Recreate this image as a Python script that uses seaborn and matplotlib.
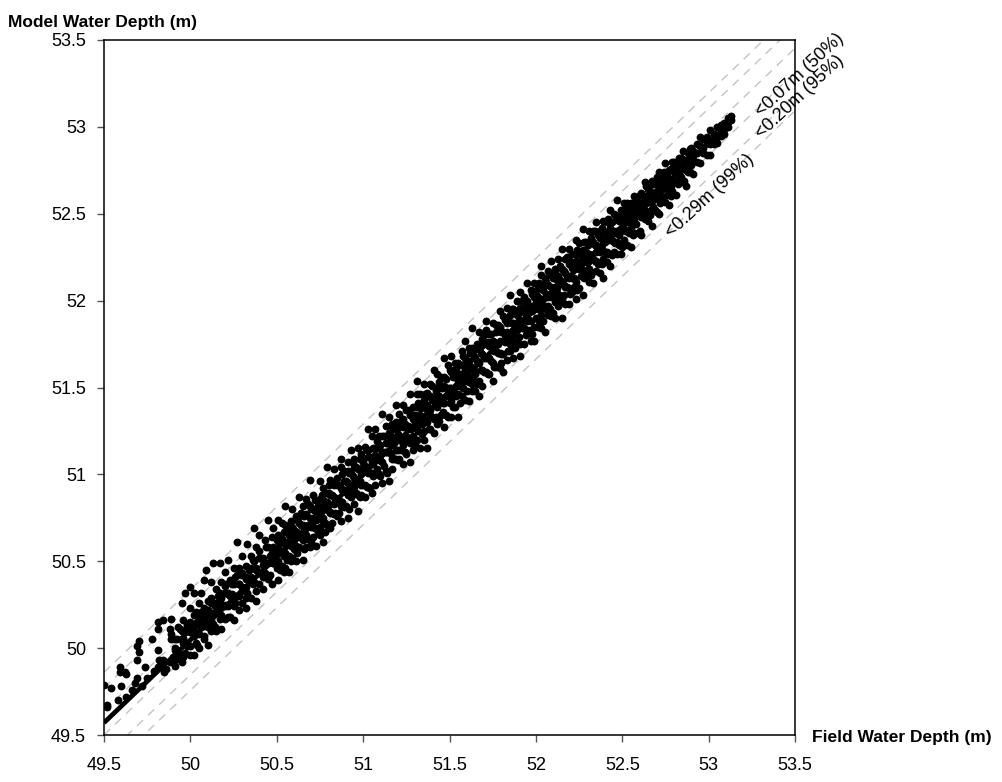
import numpy as np
import pandas as pd
import matplotlib
matplotlib.use('Agg')
import matplotlib.pyplot as plt
from matplotlib.ticker import FormatStrFormatter
import seaborn as sns

# Field vs model water depth (m), grouped along the band
low_end = [
    (49.50, 49.79), (49.52, 49.66), (49.52, 49.67), (49.54, 49.77), (49.58, 49.70),
    (49.60, 49.78), (49.59, 49.89), (49.59, 49.86), (49.62, 49.86), (49.63, 49.85),
    (49.63, 49.72), (49.66, 49.76), (49.68, 49.80), (49.69, 49.93), (49.70, 49.98),
    (49.70, 50.04), (49.69, 50.01), (49.69, 49.83), (49.72, 49.78), (49.75, 49.83),
    (49.74, 49.89), (49.78, 50.05), (49.79, 49.87), (49.81, 49.99), (49.81, 50.15),
    (49.81, 50.11), (49.84, 50.16), (49.83, 49.90), (49.84, 49.93), (49.85, 49.86),
    (49.88, 50.11), (49.89, 50.17), (49.89, 50.08), (49.89, 50.05), (49.90, 49.95),
    (49.91, 50.00), (49.90, 49.92), (49.88, 49.92), (49.81, 49.89), (49.82, 49.93),
    (49.86, 49.88),
]

lower_band = [
    (49.91, 49.90), (49.91, 49.99), (49.91, 50.05), (49.93, 49.98), (49.93, 50.12),
    (49.93, 49.94), (49.95, 50.26), (49.95, 50.05), (49.95, 49.92), (49.95, 50.10),
    (49.96, 50.16), (49.96, 50.03), (49.97, 50.32), (49.97, 49.97), (49.97, 50.09),
    (49.98, 50.14), (49.98, 50.01), (50.00, 50.35), (50.00, 50.23), (50.00, 50.09),
    (50.00, 49.96), (50.00, 50.15), (50.02, 50.32), (50.02, 50.07), (50.02, 49.96),
    (50.02, 50.13), (50.03, 50.21), (50.03, 50.03), (50.05, 50.18), (50.05, 50.08),
    (50.05, 50.26), (50.05, 50.00), (50.06, 50.32), (50.06, 50.14), (50.08, 50.23),
    (50.08, 50.05), (50.08, 50.13), (50.08, 50.39), (50.09, 50.45), (50.09, 50.19),
    (50.10, 50.02), (50.10, 50.27), (50.10, 50.14), (50.12, 50.38), (50.12, 50.20),
    (50.12, 50.10), (50.12, 50.26), (50.13, 50.49), (50.13, 50.14), (50.15, 50.34),
    (50.15, 50.26), (50.15, 50.10), (50.15, 50.21), (50.17, 50.49), (50.17, 50.32),
    (50.17, 50.17), (50.17, 50.26), (50.18, 50.11), (50.18, 50.38), (50.20, 50.24),
    (50.20, 50.32), (50.20, 50.17), (50.20, 50.44), (50.20, 50.37), (50.22, 50.24),
    (50.22, 50.32), (50.22, 50.51), (50.23, 50.39), (50.23, 50.18), (50.23, 50.30),
    (50.25, 50.46), (50.25, 50.24), (50.25, 50.37), (50.25, 50.16), (50.25, 50.29),
    (50.27, 50.42), (50.27, 50.30), (50.27, 50.61), (50.28, 50.37), (50.28, 50.22),
    (50.28, 50.46), (50.30, 50.35), (50.30, 50.53), (50.30, 50.26), (50.30, 50.42),
    (50.32, 50.23), (50.32, 50.47), (50.32, 50.35), (50.32, 50.41), (50.33, 50.60),
    (50.33, 50.32), (50.35, 50.53), (50.35, 50.41), (50.35, 50.29), (50.35, 50.46),
    (50.37, 50.38), (50.37, 50.50), (50.37, 50.69), (50.38, 50.27), (50.38, 50.46),
    (50.38, 50.58), (50.40, 50.44), (50.40, 50.37), (50.40, 50.56), (50.40, 50.65),
    (50.42, 50.52), (50.42, 50.34), (50.42, 50.48), (50.43, 50.62), (50.43, 50.43),
    (50.45, 50.58), (50.45, 50.40), (50.45, 50.49), (50.45, 50.74), (50.47, 50.37),
    (50.47, 50.55), (50.47, 50.64), (50.48, 50.69), (50.48, 50.49), (50.48, 50.58),
]

# field depth -> model depths seen at that field depth
lower_core = {
    49.92: [49.99, 50.05], 49.94: [49.96, 50.11], 49.96: [50.06, 49.95],
    49.98: [50.13, 50.03], 50.00: [50.01, 50.12], 50.02: [50.10, 50.19],
    50.04: [50.02, 50.15], 50.06: [50.12, 50.21], 50.08: [50.07, 50.16],
    50.10: [50.22, 50.12], 50.12: [50.16, 50.29], 50.14: [50.12, 50.24],
    50.16: [50.23, 50.30], 50.18: [50.19, 50.29], 50.20: [50.25, 50.36],
    50.22: [50.18, 50.31], 50.24: [50.31, 50.37], 50.26: [50.26, 50.41],
    50.28: [50.37, 50.30], 50.30: [50.33, 50.43], 50.32: [50.29, 50.40],
    50.34: [50.45, 50.39], 50.36: [50.37, 50.51], 50.38: [50.45, 50.33],
    50.40: [50.52, 50.43], 50.42: [50.41, 50.51], 50.44: [50.49, 50.58],
    50.46: [50.42, 50.53], 50.48: [50.57, 50.49],
}

middle_band = {
    50.51: [50.65, 50.50, 50.58, 50.39, 50.74], 50.53: [50.63, 50.47, 50.72, 50.56],
    50.55: [50.46, 50.60, 50.71, 50.55, 50.82], 50.57: [50.65, 50.53, 50.69, 50.44],
    50.59: [50.80, 50.61, 50.52, 50.70, 50.65], 50.61: [50.59, 50.76, 50.50, 50.65],
    50.63: [50.72, 50.87, 50.58, 50.64, 50.76], 50.65: [50.51, 50.71, 50.82, 50.62],
    50.67: [50.77, 50.58, 50.69, 50.86, 50.65], 50.69: [50.75, 50.58, 50.82, 50.97],
    50.71: [50.70, 50.80, 50.64, 50.88, 50.75], 50.73: [50.85, 50.59, 50.74, 50.80],
    50.75: [50.70, 50.96, 50.86, 50.65, 50.78], 50.77: [50.92, 50.75, 50.85, 50.61],
    50.79: [50.81, 50.89, 50.71, 51.04, 50.84], 50.81: [50.69, 50.88, 50.97, 50.78],
    50.83: [50.94, 50.77, 50.87, 51.03, 50.83], 50.85: [50.76, 50.98, 50.86, 50.94],
    50.87: [51.04, 50.73, 50.92, 50.82, 51.09], 50.89: [50.91, 51.02, 50.81, 50.96],
    50.91: [50.88, 51.02, 50.75, 50.95, 51.07], 50.93: [51.01, 50.87, 51.14, 50.93],
    50.95: [50.83, 50.98, 51.09, 50.93, 51.04], 50.97: [51.03, 50.88, 51.15, 50.79],
    50.99: [51.00, 51.09, 50.94, 51.12, 50.88], 51.01: [50.94, 51.16, 51.05, 50.87],
    51.03: [51.14, 51.01, 51.26, 51.10, 50.93], 51.05: [51.01, 51.07, 51.22, 50.89],
    51.07: [51.15, 50.94, 51.11, 51.26, 51.00], 51.09: [51.08, 51.22, 51.00, 51.15],
    51.11: [50.95, 51.13, 51.22, 51.07, 51.35], 51.13: [51.18, 51.02, 51.28, 51.13],
    51.15: [51.13, 51.24, 50.96, 51.22, 51.33], 51.17: [51.20, 51.09, 51.29, 51.03],
    51.19: [51.30, 51.14, 51.40, 51.20, 51.09], 51.21: [51.09, 51.27, 51.20, 51.35],
    51.23: [51.40, 51.06, 51.27, 51.17, 51.32], 51.25: [51.22, 51.37, 51.12, 51.27],
    51.27: [51.34, 51.18, 51.46, 51.07, 51.27], 51.29: [51.22, 51.39, 51.32, 51.14],
    51.31: [51.46, 51.27, 51.39, 51.20, 51.54], 51.33: [51.34, 51.15, 51.46, 51.38],
    51.35: [51.25, 51.43, 51.32, 51.52, 51.20], 51.37: [51.40, 51.30, 51.47, 51.15],
    51.39: [51.52, 51.26, 51.37, 51.45, 51.34], 51.41: [51.24, 51.60, 51.42, 51.32],
    51.43: [51.50, 51.39, 51.58, 51.29, 51.45], 51.45: [51.43, 51.56, 51.34, 51.50],
    51.47: [51.27, 51.51, 51.56, 51.41, 51.67], 51.49: [51.50, 51.33, 51.63, 51.46],
    51.51: [51.59, 51.42, 51.50, 51.68, 51.33], 51.53: [51.47, 51.58, 51.39, 51.64],
    51.55: [51.57, 51.33, 51.64, 51.46, 51.54], 51.57: [51.71, 51.45, 51.54, 51.63],
    51.59: [51.43, 51.60, 51.77, 51.54, 51.67], 51.61: [51.65, 51.42, 51.73, 51.53],
    51.63: [51.52, 51.62, 51.73, 51.84, 51.48], 51.65: [51.72, 51.58, 51.48, 51.67],
    51.67: [51.64, 51.82, 51.54, 51.72, 51.45], 51.69: [51.60, 51.78, 51.69, 51.51],
    51.71: [51.83, 51.67, 51.75, 51.59, 51.88], 51.73: [51.58, 51.74, 51.81, 51.67],
    51.75: [51.77, 51.54, 51.87, 51.72, 51.64], 51.77: [51.86, 51.62, 51.71, 51.82],
    51.79: [51.70, 51.94, 51.77, 51.61, 51.85], 51.81: [51.82, 51.69, 51.91, 51.59],
    51.83: [51.78, 51.87, 51.66, 51.96, 51.82], 51.85: [51.92, 51.75, 52.03, 51.71],
    51.87: [51.67, 51.87, 51.83, 51.95, 51.80], 51.89: [51.92, 51.76, 52.00, 51.83],
    51.91: [51.75, 52.05, 51.89, 51.96, 51.68], 51.93: [51.95, 51.84, 52.02, 51.75],
    51.95: [51.88, 52.00, 51.82, 52.10, 51.93], 51.97: [52.06, 51.77, 51.97, 51.88],
    51.99: [51.85, 51.95, 52.10, 51.77, 52.02], 52.01: [52.07, 51.95, 51.85, 52.02],
    52.03: [52.01, 52.15, 51.92, 51.84, 52.20], 52.05: [51.97, 52.09, 51.82, 52.13],
    52.07: [52.09, 51.92, 52.02, 52.17, 51.97], 52.09: [51.91, 52.08, 52.23, 52.02],
    52.11: [52.16, 51.99, 52.08, 51.90, 52.18], 52.13: [52.04, 52.24, 51.97, 52.14],
    52.15: [52.10, 51.90, 52.18, 52.30, 52.01], 52.17: [52.24, 52.08, 51.98, 52.16],
    52.19: [52.07, 52.21, 52.30, 51.98, 52.13], 52.21: [52.19, 52.05, 52.27, 52.13],
    52.23: [52.35, 52.01, 52.23, 52.11, 52.27], 52.25: [52.18, 52.33, 52.07, 52.22],
    52.27: [52.29, 52.17, 52.41, 52.03, 52.22], 52.29: [52.14, 52.34, 52.22, 52.28],
    52.31: [52.40, 52.11, 52.27, 52.18, 52.34], 52.33: [52.24, 52.34, 52.10, 52.40],
    52.35: [52.32, 52.17, 52.45, 52.23, 52.28], 52.37: [52.40, 52.28, 52.16, 52.36],
    52.39: [52.24, 52.46, 52.33, 52.13, 52.40], 52.41: [52.37, 52.28, 52.45, 52.22],
    52.43: [52.52, 52.35, 52.42, 52.20, 52.45], 52.45: [52.34, 52.50, 52.28, 52.40],
    52.47: [52.47, 52.27, 52.40, 52.58, 52.34], 52.49: [52.40, 52.52, 52.27, 52.47],
}

middle_core = {
    50.50: [50.46, 50.56, 50.62], 50.52: [50.55, 50.45, 50.61], 50.54: [50.67, 50.53, 50.44],
    50.56: [50.61, 50.67, 50.51], 50.58: [50.59, 50.73, 50.50], 50.60: [50.68, 50.57, 50.62],
    50.62: [50.55, 50.74, 50.67], 50.64: [50.71, 50.64, 50.78], 50.66: [50.57, 50.69, 50.76],
    50.68: [50.71, 50.63, 50.83], 50.70: [50.80, 50.70, 50.61], 50.72: [50.69, 50.79, 50.85],
    50.74: [50.75, 50.67, 50.82], 50.76: [50.88, 50.74, 50.81], 50.78: [50.72, 50.81, 50.67],
    50.80: [50.89, 50.79, 50.94], 50.82: [50.78, 50.88, 50.72], 50.84: [50.86, 50.95, 50.78],
    50.86: [50.85, 50.94, 50.78], 50.88: [51.00, 50.84, 50.91], 50.90: [50.82, 50.96, 50.90],
    50.92: [51.01, 50.80, 50.94], 50.94: [50.91, 50.99, 51.07], 50.96: [50.96, 50.89, 51.04],
    50.98: [51.09, 50.96, 50.87], 51.00: [51.04, 50.94, 51.07], 51.02: [50.93, 51.04, 51.14],
    51.04: [51.10, 51.01, 50.92], 51.06: [51.06, 51.15, 50.99], 51.08: [51.03, 51.19, 51.10],
    51.10: [51.17, 50.99, 51.08], 51.12: [51.13, 51.05, 51.22], 51.14: [51.01, 51.18, 51.13],
    51.16: [51.22, 51.12, 51.28], 51.18: [51.09, 51.18, 51.26], 51.20: [51.23, 51.14, 51.08],
    51.22: [51.31, 51.21, 51.14], 51.24: [51.21, 51.29, 51.13], 51.26: [51.37, 51.20, 51.28],
    51.28: [51.26, 51.35, 51.18], 51.30: [51.34, 51.17, 51.29], 51.32: [51.25, 51.41, 51.33],
    51.34: [51.39, 51.29, 51.23], 51.36: [51.33, 51.46, 51.38], 51.38: [51.26, 51.38, 51.45],
    51.40: [51.43, 51.33, 51.51], 51.42: [51.33, 51.40, 51.48], 51.44: [51.53, 51.31, 51.45],
    51.46: [51.41, 51.50, 51.36], 51.48: [51.55, 51.45, 51.34], 51.50: [51.50, 51.41, 51.60],
    51.52: [51.45, 51.56, 51.39], 51.54: [51.61, 51.51, 51.45], 51.56: [51.51, 51.58, 51.41],
    51.58: [51.63, 51.50, 51.68], 51.60: [51.57, 51.48, 51.63], 51.62: [51.70, 51.56, 51.62],
    51.64: [51.54, 51.68, 51.60], 51.66: [51.65, 51.52, 51.75], 51.68: [51.60, 51.70, 51.74],
    51.70: [51.67, 51.59, 51.80], 51.72: [51.76, 51.67, 51.58], 51.74: [51.65, 51.74, 51.81],
    51.76: [51.76, 51.62, 51.71], 51.78: [51.86, 51.70, 51.75], 51.80: [51.69, 51.82, 51.64],
    51.82: [51.80, 51.76, 51.89], 51.84: [51.71, 51.88, 51.80], 51.86: [51.87, 51.77, 51.95],
    51.88: [51.83, 51.94, 51.73], 51.90: [51.89, 51.79, 51.93], 51.92: [51.84, 52.00, 51.88],
    51.94: [51.98, 51.80, 51.92], 51.96: [51.89, 51.97, 51.83], 51.98: [52.04, 51.94, 51.81],
    52.00: [51.90, 51.99, 52.04], 52.02: [51.97, 51.88, 52.10], 52.04: [52.06, 51.96, 51.88],
    52.06: [51.95, 52.04, 52.11], 52.08: [52.04, 51.95, 52.15], 52.10: [52.03, 52.13, 51.93],
    52.12: [52.12, 52.02, 52.07], 52.14: [52.00, 52.20, 52.12], 52.16: [52.17, 52.09, 52.03],
    52.18: [52.08, 52.25, 52.14], 52.20: [52.23, 52.04, 52.14], 52.22: [52.13, 52.21, 52.08],
    52.24: [52.29, 52.19, 52.06], 52.26: [52.14, 52.26, 52.19], 52.28: [52.25, 52.13, 52.34],
    52.30: [52.22, 52.32, 52.18], 52.32: [52.36, 52.26, 52.15], 52.34: [52.23, 52.32, 52.40],
    52.36: [52.31, 52.21, 52.38], 52.38: [52.30, 52.42, 52.21], 52.40: [52.39, 52.28, 52.34],
    52.42: [52.27, 52.38, 52.47], 52.44: [52.45, 52.35, 52.26], 52.46: [52.39, 52.49, 52.33],
    52.48: [52.38, 52.46, 52.32], 52.50: [52.50, 52.42, 52.31], 52.52: [52.40, 52.49, 52.55],
    52.54: [52.48, 52.39, 52.53], 52.56: [52.45, 52.56, 52.38], 52.58: [52.54, 52.44, 52.51],
    52.60: [52.51, 52.61, 52.40], 52.62: [52.60, 52.50, 52.56], 52.64: [52.49, 52.56, 52.66],
    52.66: [52.61, 52.49, 52.63], 52.68: [52.58, 52.67, 52.54], 52.70: [52.63, 52.51, 52.71],
    52.72: [52.69, 52.61, 52.56], 52.74: [52.65, 52.74, 52.68], 52.76: [52.72, 52.61, 52.68],
    52.78: [52.66, 52.76, 52.60], 52.80: [52.74, 52.69, 52.80], 52.82: [52.67, 52.74, 52.78],
    52.84: [52.77, 52.71, 52.82], 52.86: [52.69, 52.81, 52.76], 52.88: [52.80, 52.85, 52.74],
    52.90: [52.78, 52.84, 52.88],
}

upper_band = {
    52.51: [52.47, 52.35, 52.56, 52.41, 52.51], 52.53: [52.32, 52.51, 52.45, 52.56],
    52.55: [52.56, 52.42, 52.50, 52.31], 52.57: [52.47, 52.60, 52.39, 52.53, 52.49],
    52.59: [52.57, 52.39, 52.52], 52.61: [52.48, 52.62, 52.38, 52.56],
    52.63: [52.68, 52.52, 52.60, 52.47], 52.65: [52.57, 52.46, 52.64],
    52.67: [52.69, 52.53, 52.61, 52.43], 52.69: [52.59, 52.67, 52.52],
    52.71: [52.67, 52.50, 52.74, 52.59], 52.73: [52.73, 52.64, 52.58],
    52.75: [52.57, 52.70, 52.79], 52.77: [52.75, 52.64, 52.69, 52.55],
    52.79: [52.80, 52.69, 52.63], 52.81: [52.74, 52.61, 52.78],
    52.83: [52.70, 52.82, 52.73], 52.85: [52.81, 52.68, 52.77, 52.86],
    52.87: [52.75, 52.81, 52.66], 52.89: [52.87, 52.74, 52.80],
    52.91: [52.81, 52.86, 52.73], 52.93: [52.90, 52.80, 52.85],
    52.95: [52.79, 52.89, 52.94], 52.97: [52.88, 52.85, 52.93],
    52.99: [52.94, 52.84, 52.91], 53.01: [52.90, 52.98, 52.84],
    53.03: [52.96, 52.90, 52.93], 53.05: [53.00, 52.94, 52.91],
    53.07: [52.99, 52.95, 53.01], 53.09: [53.02, 52.99, 52.96],
    53.11: [53.03, 53.00, 53.05], 53.13: [53.04, 53.06],
}

# fitted line (model = intercept + slope * field) and error bands around it
fit_intercept = 2.397
fit_slope = 0.953
band_offsets = [0.07, 0.20, 0.29]
band_labels = ['<0.07m (50%)', '<0.20m (95%)', '<0.29m (99%)']
ticks = [49.5, 50, 50.5, 51, 51.5, 52, 52.5, 53, 53.5]

rows = list(low_end) + list(lower_band)
for band in (lower_core, middle_band, middle_core, upper_band):
    for fx, ys in band.items():
        rows += [(fx, my) for my in ys]
df = pd.DataFrame(rows, columns=['field', 'model'])

sns.set_style('ticks')
plt.rcParams['font.family'] = ['Liberation Sans', 'DejaVu Sans']
plt.rcParams['text.color'] = 'black'
plt.rcParams['xtick.labelcolor'] = 'black'
plt.rcParams['ytick.labelcolor'] = 'black'

fig = plt.figure(figsize=(10.02, 7.82), dpi=100)
ax = fig.add_axes([104 / 1002, 47 / 782, 691 / 1002, 695 / 782])

# dashed error bands
xs = np.array([ticks[0], ticks[-1]])
for off in band_offsets:
    for sgn in (1, -1):
        ax.plot(xs, fit_intercept + fit_slope * xs + sgn * off,
                color='#c4c4c4', lw=1.0, ls=(0, (6, 5)), zorder=1)

sns.scatterplot(data=df, x='field', y='model', color='black', s=32,
                linewidth=0, ax=ax, zorder=3)

fx = np.array([df['field'].min(), df['field'].max()])
ax.plot(fx, fit_intercept + fit_slope * fx, color='black', lw=3.4, zorder=2,
        solid_capstyle='butt')

ax.set_xlim(ticks[0], ticks[-1])
ax.set_ylim(ticks[0], ticks[-1])
ax.set_xticks(ticks)
ax.set_yticks(ticks)
ax.xaxis.set_major_formatter(FormatStrFormatter('%g'))
ax.yaxis.set_major_formatter(FormatStrFormatter('%g'))
ax.tick_params(labelsize=13, length=5, width=1, color='#555555', direction='out')
ax.tick_params(axis='x', pad=11)
ax.tick_params(axis='y', pad=8)
ax.set_xlabel('')
ax.set_ylabel('')
for sp in ax.spines.values():
    sp.set_visible(True)
    sp.set_color('black')
    sp.set_linewidth(1.1)

# band labels, rotated along the bands
label_pos = [(53.53, 53.30), (53.53, 53.17), (53.01, 52.60)]
for (lx, ly), txt in zip(label_pos, band_labels):
    ax.text(lx, ly, txt, rotation=43, rotation_mode='anchor', ha='center',
            va='center', fontsize=13, clip_on=False)

fig.text(8 / 1002, 1 - 27 / 782, 'Model Water Depth (m)', fontsize=12.5,
         fontweight='bold', ha='left', va='baseline')
fig.text(812 / 1002, 1 - 742 / 782, 'Field Water Depth (m)', fontsize=12.5,
         fontweight='bold', ha='left', va='baseline')

fig.savefig('out.png', dpi=100)
